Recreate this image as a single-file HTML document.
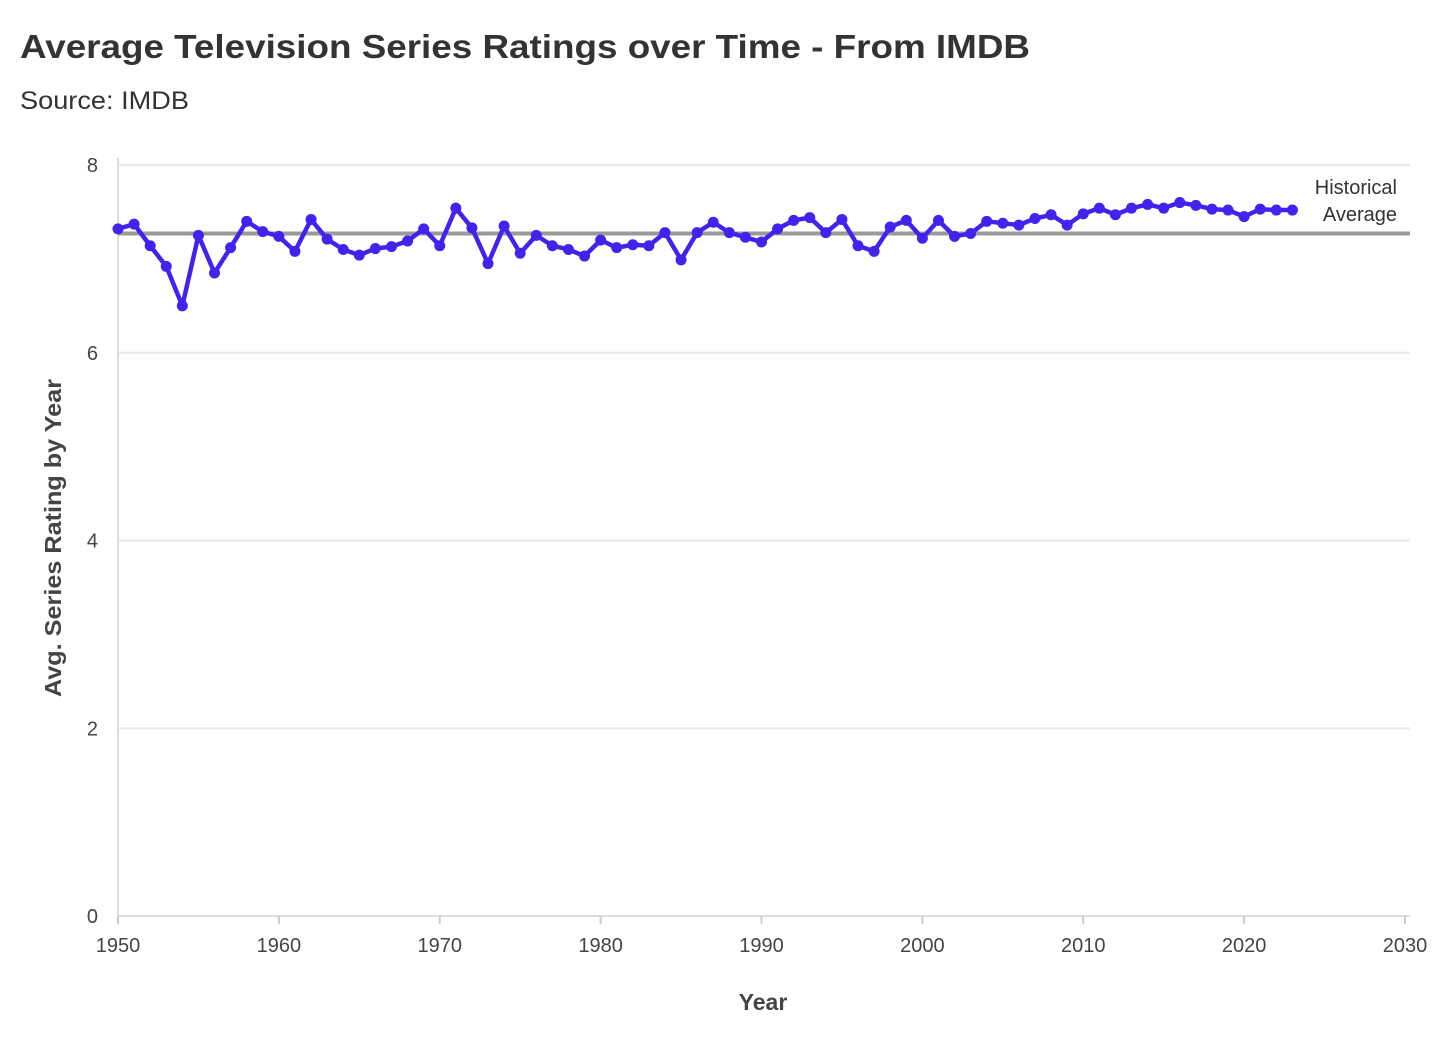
<!DOCTYPE html>
<html><head><meta charset="utf-8"><style>
body{margin:0;background:#fff;font-family:"Liberation Sans",sans-serif}
svg{display:block}
</style></head><body>
<svg id="chart" width="1456" height="1052" viewBox="0 0 1456 1052" xmlns="http://www.w3.org/2000/svg">
<text x="20" y="58" font-size="33" font-weight="bold" fill="#333" textLength="1010" lengthAdjust="spacingAndGlyphs">Average Television Series Ratings over Time - From IMDB</text>
<text x="20" y="109" font-size="25" fill="#333" textLength="169" lengthAdjust="spacingAndGlyphs">Source: IMDB</text>
<g id="grid"></g><g id="axes"></g><g id="series"></g>
<text x="763" y="1010" font-size="23" font-weight="bold" fill="#444" text-anchor="middle">Year</text>
<text transform="translate(61,538) rotate(-90)" font-size="23" font-weight="bold" fill="#444" text-anchor="middle" textLength="318" lengthAdjust="spacingAndGlyphs">Avg. Series Rating by Year</text>
</svg>
<script>
const years=[];for(let y=1950;y<=2023;y++)years.push(y);
const ratings=[7.32,7.37,7.14,6.92,6.50,7.25,6.85,7.12,7.40,7.29,7.24,7.08,7.42,7.21,7.10,7.04,7.11,7.13,7.19,7.32,7.14,7.54,7.33,6.95,7.35,7.06,7.25,7.14,7.10,7.03,7.20,7.12,7.15,7.14,7.28,6.99,7.28,7.39,7.28,7.23,7.18,7.32,7.41,7.44,7.28,7.42,7.14,7.08,7.34,7.41,7.22,7.41,7.24,7.27,7.40,7.38,7.36,7.43,7.47,7.36,7.48,7.54,7.47,7.54,7.58,7.54,7.60,7.57,7.53,7.52,7.45,7.53,7.52,7.52];
const historicalAverage=7.27;
const yTicks=[0,2,4,6,8];
const xTicks=[1950,1960,1970,1980,1990,2000,2010,2020,2030];
const NS="http://www.w3.org/2000/svg";
const X=v=>118+(v-1950)*(1405-118)/80;
const Y=v=>916-v*(916-165)/8;
function mk(tag,attrs,parent,text){const e=document.createElementNS(NS,tag);for(const k in attrs)e.setAttribute(k,attrs[k]);if(text!==undefined)e.textContent=text;document.getElementById(parent).appendChild(e);return e;}
yTicks.forEach(t=>{
 const l=mk('line',{x1:118,x2:1410,y1:Y(t),y2:Y(t),stroke:t===0?'#ddd':'#e8e8e8','stroke-width':2},'grid');
 
 
 const tx=mk('text',{x:98,y:Y(t)+7,'font-size':20,fill:'#444','text-anchor':'end'},'axes',String(t));
 
 
});
const ax=mk('line',{x1:118,x2:118,y1:158,y2:922,stroke:'#ddd','stroke-width':2},'axes');


xTicks.forEach(t=>{
 const tk=mk('line',{x1:X(t),x2:X(t),y1:916,y2:924,stroke:'#ccc','stroke-width':2},'axes');
 
 
 const tx=mk('text',{x:X(t),y:952,'font-size':20,fill:'#444','text-anchor':'middle'},'axes',String(t));
 
 
});
const avg=mk('line',{x1:118,x2:1410,y1:Y(historicalAverage),y2:Y(historicalAverage),stroke:'#999','stroke-width':4},'series');


const a1=mk('text',{x:1397,y:194,'font-size':20,fill:'#333','text-anchor':'end'},'series','Historical');


const a2=mk('text',{x:1397,y:221,'font-size':20,fill:'#333','text-anchor':'end'},'series','Average');


const pts=years.map((y,i)=>X(y)+','+Y(ratings[i])).join(' ');
const pl=mk('polyline',{points:pts,fill:'none',stroke:'#4422ee','stroke-width':4.5,'stroke-linejoin':'round'},'series');


years.forEach((y,i)=>{
 const c=mk('circle',{cx:X(y),cy:Y(ratings[i]),r:5.5,fill:'#4422ee'},'series');
 
 
});
</script>
</body></html>
